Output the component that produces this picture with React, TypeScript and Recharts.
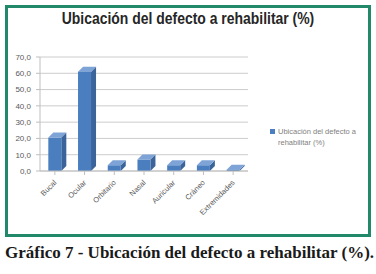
import { BarChart, Bar, XAxis, YAxis, CartesianGrid } from "recharts";

const categories = ["Bucal", "Ocular", "Orbitario", "Nasal", "Auricular", "Cráneo", "Extremidades"];
const values = [20.5, 61.0, 3.5, 7.0, 3.5, 3.5, 0.8];
const yTicks = [0, 10, 20, 30, 40, 50, 60, 70];

const SERIES = "Ubicación del defecto a rehabilitar (%)";

const data = categories.map((c, i) => ({ name: c, value: values[i] }));

// fake 3D column: front face + top + right side
function Column3D(props: any) {
  const { x, y, width, height } = props;
  const d = 5;
  if (height <= 0) return null;
  return (
    <g>
      <path
        d={`M${x + width},${y} L${x + width + d},${y - d} L${x + width + d},${y + height - d} L${x + width},${y + height} Z`}
        fill="#3a649a"
      />
      <path d={`M${x},${y} L${x + d},${y - d} L${x + width + d},${y - d} L${x + width},${y} Z`} fill="#7ea3d6" />
      <rect x={x} y={y} width={width} height={height} fill="#4a7ebf" />
    </g>
  );
}

export default function App() {
  return (
    <div
      style={{
        position: "absolute",
        left: 0,
        top: 0,
        width: 376,
        height: 274,
        background: "#fff",
        fontFamily: "'Liberation Sans', sans-serif",
      }}
    >
      <div
        style={{
          position: "absolute",
          left: 5,
          top: 5,
          width: 360,
          height: 226,
          border: "3px solid #21896a",
        }}
      />
      <div
        style={{
          position: "absolute",
          left: 0,
          top: 9,
          width: 376,
          textAlign: "center",
          fontSize: 17,
          fontWeight: "bold",
          color: "#262626",
          transform: "scaleX(0.82)",
        }}
      >
        {SERIES}
      </div>
      <div style={{ position: "absolute", left: 0, top: 0 }}>
        <BarChart
          width={376}
          height={274}
          data={data}
          margin={{ top: 57, right: 128, bottom: 73, left: 0 }}
          barCategoryGap="28%"
        >
          <CartesianGrid vertical={false} stroke="#bfbfbf" strokeWidth={0.8} />
          <YAxis
            width={40}
            domain={[0, 70]}
            ticks={yTicks}
            interval={0}
            tickFormatter={(v: number) => v.toFixed(1).replace(".", ",")}
            tick={{ fontSize: 8, fill: "#595959" }}
            axisLine={{ stroke: "#bfbfbf" }}
            tickLine={{ stroke: "#bfbfbf" }}
            tickSize={4}
            tickMargin={5}
          />
          <XAxis
            dataKey="name"
            height={30}
            interval={0}
            axisLine={{ stroke: "#bfbfbf" }}
            tickLine={{ stroke: "#bfbfbf" }}
            tickSize={4}
            tick={(p: any) => (
              <text
                x={p.x}
                y={p.y + 4}
                transform={`rotate(-45 ${p.x} ${p.y + 4})`}
                textAnchor="end"
                fontSize={7.5}
                fill="#595959"
                dy={3}
              >
                {p.payload.value}
              </text>
            )}
          />
          <Bar dataKey="value" name={SERIES} fill="#4a7ebf" shape={Column3D} isAnimationActive={false} />
        </BarChart>
      </div>
      <div
        style={{
          position: "absolute",
          left: 270,
          top: 126,
          width: 92,
          display: "flex",
          alignItems: "flex-start",
          fontSize: 7.5,
          color: "#7f7f7f",
          lineHeight: "11px",
        }}
      >
        <span style={{ width: 5, height: 5, background: "#4a7ebf", marginTop: 3, marginRight: 3, flexShrink: 0 }} />
        <span>{SERIES}</span>
      </div>
      <div
        style={{
          position: "absolute",
          left: 5,
          top: 243,
          fontFamily: "'Liberation Serif', serif",
          fontWeight: "bold",
          fontSize: 17,
          color: "#1a1a1a",
          whiteSpace: "nowrap",
        }}
      >
        Gráfico 7 - Ubicación del defecto a rehabilitar (%).
      </div>
    </div>
  );
}
